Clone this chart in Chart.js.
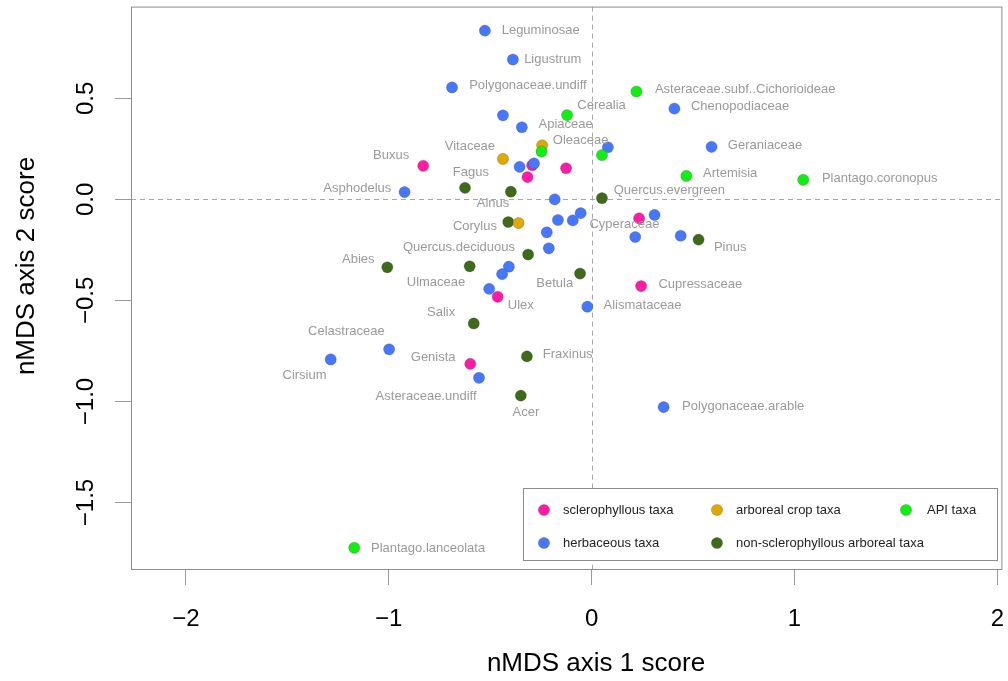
<!DOCTYPE html>
<html>
<head>
<meta charset="utf-8">
<script src="https://cdn.jsdelivr.net/npm/chart.js@4.4.1/dist/chart.umd.min.js"></script>
<style>
  html, body { margin: 0; padding: 0; background: #ffffff; }
  #wrap { width: 1008px; height: 681px; position: relative; }
</style>
</head>
<body>
<div id="wrap"><canvas id="c" width="1008" height="681"></canvas></div>
<script>
// ---------------- DATA ----------------
const groupNames = ["sclerophyllous taxa", "arboreal crop taxa", "API taxa", "herbaceous taxa", "non-sclerophyllous arboreal taxa"];

const sclerophyllousPts = [
  [-0.830, 0.166], [-0.316, 0.110], [-0.293, 0.169], [-0.126, 0.154],
  [0.234, -0.094], [0.244, -0.429], [-0.463, -0.482], [-0.598, -0.814]
];
const arborealCropPts = [
  [-0.437, 0.200], [-0.244, 0.268], [-0.360, -0.117]
];
const apiPts = [
  [0.221, 0.534], [-0.121, 0.417], [-0.247, 0.237], [0.051, 0.219],
  [0.467, 0.116], [1.043, 0.097], [-1.170, -1.724]
];
const herbaceousPts = [
  [-0.526, 0.835], [-0.388, 0.692], [-0.688, 0.554], [-0.437, 0.416],
  [-0.344, 0.357], [-0.355, 0.161], [-0.284, 0.178], [0.080, 0.258],
  [0.408, 0.449], [0.591, 0.260], [-0.922, 0.036], [-0.182, 0.000],
  [-0.166, -0.102], [-0.093, -0.104], [-0.054, -0.068], [-0.221, -0.163],
  [-0.211, -0.242], [-0.408, -0.333], [-0.441, -0.370], [-0.505, -0.443],
  [-0.021, -0.531], [-0.998, -0.742], [-1.286, -0.792], [-0.555, -0.883],
  [0.355, -1.028], [0.215, -0.186], [0.439, -0.180], [0.310, -0.077]
];
const nonSclerophyllousPts = [
  [-0.624, 0.057], [-0.398, 0.038], [0.051, 0.006], [-0.411, -0.112],
  [-0.313, -0.273], [-1.007, -0.336], [-0.601, -0.331], [-0.057, -0.367],
  [-0.581, -0.614], [-0.319, -0.777], [-0.349, -0.971], [0.527, -0.199]
];

// taxon labels (text centre, in axis units)
const labelNames = ["Leguminosae", "Ligustrum", "Polygonaceae.undiff", "Cerealia",
  "Asteraceae.subf..Cichorioideae", "Chenopodiaceae", "Apiaceae", "Oleaceae", "Vitaceae",
  "Geraniaceae", "Buxus", "Fagus", "Artemisia", "Plantago.coronopus", "Asphodelus",
  "Quercus.evergreen", "Alnus", "Corylus", "Cyperaceae", "Quercus.deciduous", "Pinus",
  "Abies", "Ulmaceae", "Betula", "Cupressaceae", "Alismataceae", "Ulex", "Salix",
  "Celastraceae", "Genista", "Fraxinus", "Cirsium", "Asteraceae.undiff", "Acer",
  "Polygonaceae.arable", "Plantago.lanceolata"];
const labelX = [-0.251, -0.192, -0.314, 0.049, 0.757, 0.732, -0.128, -0.054, -0.600,
  0.855, -0.988, -0.595, 0.683, 1.420, -1.155, 0.383, -0.486, -0.575, 0.162, -0.654, 0.683,
  -1.150, -0.767, -0.182, 0.536, 0.251, -0.349, -0.742, -1.209, -0.781, -0.118, -1.415,
  -0.816, -0.324, 0.747, -0.806];
const labelY = [0.835, 0.692, 0.564, 0.465, 0.544, 0.460, 0.372, 0.293, 0.263,
  0.268, 0.219, 0.135, 0.130, 0.105, 0.056, 0.046, -0.018, -0.132, -0.122, -0.236, -0.240,
  -0.295, -0.413, -0.418, -0.423, -0.527, -0.527, -0.561, -0.655, -0.783, -0.768, -0.872,
  -0.976, -1.055, -1.025, -1.726];

const xTicks = [-2, -1, 0, 1, 2];
const yTicks = [-1.5, -1.0, -0.5, 0.0, 0.5];
const xTitle = "nMDS axis 1 score";
const yTitle = "nMDS axis 2 score";

// ---------------- STYLE ----------------
const FONT = '"Liberation Sans", Arial, Helvetica, sans-serif';
const colors = {
  "sclerophyllous taxa": "#ff1aa8",
  "arboreal crop taxa": "#e0a800",
  "API taxa": "#11ee11",
  "herbaceous taxa": "#4678ff",
  "non-sclerophyllous arboreal taxa": "#3d6b19"
};
const drawOrder = {
  "API taxa": 0, "herbaceous taxa": 1, "arboreal crop taxa": 2,
  "non-sclerophyllous arboreal taxa": 3, "sclerophyllous taxa": 4
};
const groupPts = [sclerophyllousPts, arborealCropPts, apiPts, herbaceousPts, nonSclerophyllousPts];

const fmt = (v, d) => {
  const s = d === undefined ? String(Math.abs(v)) : Math.abs(v).toFixed(d);
  return (v < 0 ? "\u2212" : "") + s;
};

const datasets = groupNames.map((g, i) => ({
  label: g,
  data: groupPts[i].map(p => ({ x: p[0], y: p[1] })),
  backgroundColor: colors[g],
  borderColor: "rgba(60,60,60,0.25)",
  borderWidth: 1,
  pointRadius: 5.6,
  pointHoverRadius: 5.6,
  order: drawOrder[g]
}));

const framePlugin = {
  id: "frame",
  beforeDatasetsDraw(chart) {
    const { ctx, chartArea: a, scales: { x, y } } = chart;
    ctx.save();
    ctx.strokeStyle = "#a8a8a8";
    ctx.lineWidth = 1;
    ctx.setLineDash([5, 4]);
    const x0 = Math.round(x.getPixelForValue(0)) + 0.5;
    const y0 = Math.round(y.getPixelForValue(0)) + 0.5;
    ctx.beginPath();
    ctx.moveTo(x0, a.top); ctx.lineTo(x0, a.bottom);
    ctx.moveTo(a.left, y0); ctx.lineTo(a.right, y0);
    ctx.stroke();
    ctx.restore();
  },
  afterDatasetsDraw(chart) {
    const { ctx, chartArea: a, scales: { x, y } } = chart;
    ctx.save();
    // taxon labels
    ctx.font = "13px " + FONT;
    ctx.fillStyle = "#9a9a9a";
    ctx.textAlign = "center";
    ctx.textBaseline = "middle";
    labelNames.forEach((n, i) => {
      ctx.fillText(n, x.getPixelForValue(labelX[i]), y.getPixelForValue(labelY[i]));
    });
    // box
    ctx.strokeStyle = "#8c8c8c";
    ctx.lineWidth = 1;
    ctx.setLineDash([]);
    ctx.strokeRect(a.left + 0.5, a.top + 0.5, a.right - a.left, a.bottom - a.top);
    // tick labels
    ctx.fillStyle = "#000";
    ctx.font = "24px " + FONT;
    xTicks.forEach(v => {
      ctx.fillText(fmt(v), x.getPixelForValue(v), 619);
    });
    yTicks.forEach(v => {
      ctx.save();
      ctx.translate(86, y.getPixelForValue(v));
      ctx.rotate(-Math.PI / 2);
      ctx.fillText(fmt(v, 1), 0, 0);
      ctx.restore();
    });
    // axis titles
    ctx.font = "26px " + FONT;
    ctx.fillText(xTitle, 596, 664);
    ctx.save();
    ctx.translate(27, 266);
    ctx.rotate(-Math.PI / 2);
    ctx.fillText(yTitle, 0, 0);
    ctx.restore();
    // legend
    const L = { l: 523.5, t: 488.5, w: 474, h: 72 };
    ctx.fillStyle = "#fff";
    ctx.fillRect(L.l, L.t, L.w, L.h);
    ctx.strokeStyle = "#8c8c8c";
    ctx.strokeRect(L.l, L.t, L.w, L.h);
    const cols = [544, 717, 906];
    const rows = [510, 543];
    const slots = [
      ["sclerophyllous taxa", 0, 0], ["arboreal crop taxa", 1, 0], ["API taxa", 2, 0],
      ["herbaceous taxa", 0, 1], ["non-sclerophyllous arboreal taxa", 1, 1]
    ];
    ctx.font = "13px " + FONT;
    ctx.textAlign = "left";
    slots.forEach(([g, c, r]) => {
      ctx.beginPath();
      ctx.arc(cols[c], rows[r], 5.6, 0, Math.PI * 2);
      ctx.fillStyle = colors[g];
      ctx.fill();
      ctx.strokeStyle = "rgba(60,60,60,0.25)";
      ctx.stroke();
      ctx.fillStyle = "#222";
      ctx.fillText(g, cols[c] + (c === 2 ? 21 : 19), rows[r]);
    });
    ctx.restore();
  }
};

new Chart(document.getElementById("c"), {
  type: "scatter",
  data: { datasets },
  options: {
    responsive: false,
    animation: false,
    events: [],
    layout: { padding: { top: 5, right: 4, left: 0, bottom: 0 } },
    plugins: { legend: { display: false }, tooltip: { enabled: false }, title: { display: false } },
    scales: {
      x: {
        type: "linear",
        min: -2.2703,
        max: 2.0197,
        afterBuildTicks: s => { s.ticks = xTicks.map(v => ({ value: v })); },
        afterFit: s => { s.height = 112; },
        ticks: { display: false },
        grid: { drawOnChartArea: false, drawTicks: true, tickLength: 16, color: "#9a9a9a", lineWidth: 1 },
        border: { display: false }
      },
      y: {
        type: "linear",
        min: -1.829,
        max: 0.954,
        afterBuildTicks: s => { s.ticks = yTicks.map(v => ({ value: v })); },
        afterFit: s => { s.width = 131; },
        ticks: { display: false },
        grid: { drawOnChartArea: false, drawTicks: true, tickLength: 16, color: "#9a9a9a", lineWidth: 1 },
        border: { display: false }
      }
    }
  },
  plugins: [framePlugin]
});
</script>
</body>
</html>
